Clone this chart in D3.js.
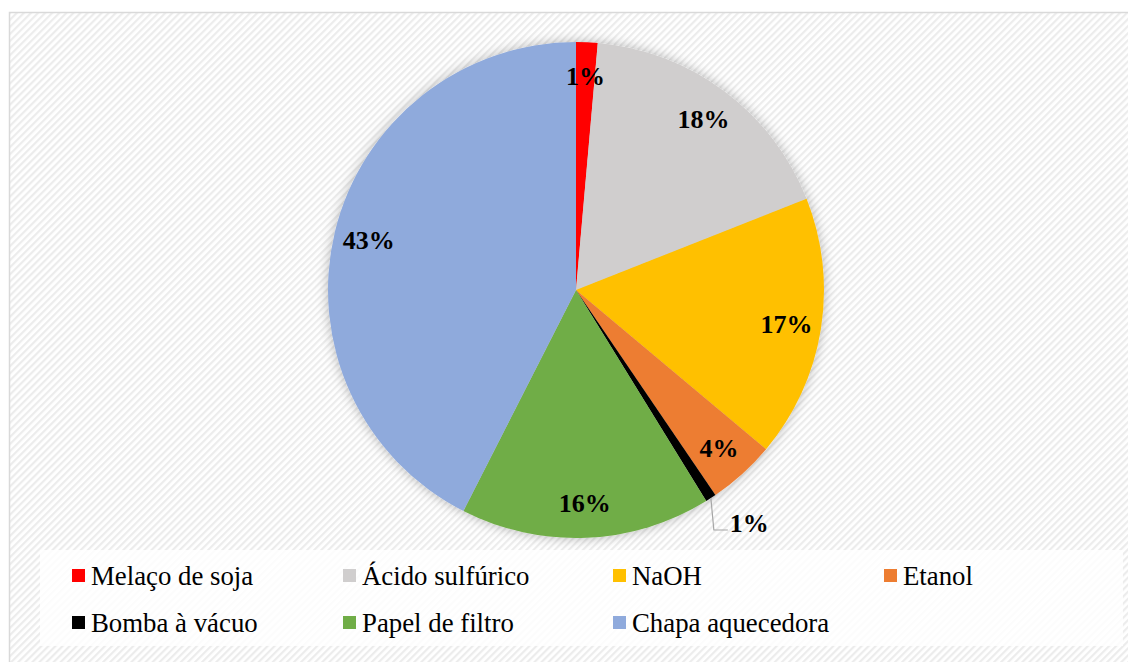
<!DOCTYPE html>
<html>
<head>
<meta charset="utf-8">
<script src="https://cdn.jsdelivr.net/npm/d3@7"></script>
<style>
  html, body { margin: 0; padding: 0; background: #ffffff; }
  svg { display: block; }
  text { font-family: "Liberation Serif"; }
</style>
</head>
<body>
<div id="chart"></div>
<script>
// Cost share of the materials
const categories = ["Melaço de soja", "Ácido sulfúrico", "NaOH", "Etanol", "Bomba à vácuo", "Papel de filtro", "Chapa aquecedora"];
const values = [1.4, 17.6, 17.1, 4.4, 0.7, 16.3, 42.5];
const labels = ["1%", "18%", "17%", "4%", "1%", "16%", "43%"];
const colors = ["#ff0000", "#d0cece", "#ffc000", "#ed7d31", "#000000", "#70ad47", "#8faadc"];

const W = 1128, H = 662;
const cx = 576, cy = 290, R = 248;

const svg = d3.select("#chart").append("svg")
  .attr("width", W).attr("height", H);

const defs = svg.append("defs");

// diagonal hatch used as the chart-area fill
const pat = defs.append("pattern")
  .attr("id", "hatch")
  .attr("patternUnits", "userSpaceOnUse")
  .attr("width", 5).attr("height", 5)
  .attr("patternTransform", "rotate(45)");
pat.append("rect").attr("width", 5).attr("height", 5).attr("fill", "#ffffff");
pat.append("rect").attr("x", 0).attr("width", 2.2).attr("height", 5).attr("fill", "#ececec");

// soft shadow around the pie
const f = defs.append("filter").attr("id", "glow")
  .attr("x", "-10%").attr("y", "-10%").attr("width", "120%").attr("height", "120%");
f.append("feGaussianBlur").attr("in", "SourceAlpha").attr("stdDeviation", 6).attr("result", "b");
f.append("feFlood").attr("flood-color", "#000").attr("flood-opacity", 0.28).attr("result", "c");
f.append("feComposite").attr("in", "c").attr("in2", "b").attr("operator", "in").attr("result", "s");
const fm = f.append("feMerge");
fm.append("feMergeNode").attr("in", "s");
fm.append("feMergeNode").attr("in", "SourceGraphic");

// chart area
svg.append("rect")
  .attr("x", 9.5).attr("y", 12.5)
  .attr("width", W + 20).attr("height", H + 20)
  .attr("fill", "url(#hatch)")
  .attr("stroke", "#d9d9d9").attr("stroke-width", 1.5);

// pie
const pie = d3.pie().sort(null).value(d => d)(values);
const arc = d3.arc().innerRadius(0).outerRadius(R);

const g = svg.append("g").attr("transform", `translate(${cx},${cy})`);
const pieG = g.append("g").attr("filter", "url(#glow)");
pieG.selectAll("path").data(pie).join("path")
  .attr("d", arc)
  .attr("fill", (d, i) => colors[i]);

// data labels
const labelArc = d3.arc().innerRadius(R * 0.86).outerRadius(R * 0.86);

pie.forEach((d, i) => {
  if (i === 4) return;
  const [x, y] = labelArc.centroid(d);
  g.append("text")
    .attr("x", x).attr("y", y)
    .attr("text-anchor", "middle")
    .attr("dominant-baseline", "central")
    .attr("font-weight", "bold")
    .attr("font-size", 26).attr("fill", "#000")
    .text(labels[i]);
});

// small slice: label outside with leader line
{
  const d = pie[4];
  const a = (d.startAngle + d.endAngle) / 2;
  const ex = Math.sin(a) * R, ey = -Math.cos(a) * R;
  const lx = ex + 3, ly = 240;
  g.append("path")
    .attr("d", `M${ex},${ey} L${lx},${ly} L${lx + 14},${ly}`)
    .attr("fill", "none").attr("stroke", "#a6a6a6").attr("stroke-width", 1.2);
  g.append("text")
    .attr("x", lx + 16).attr("y", ly - 7)
    .attr("dominant-baseline", "central")
    .attr("font-weight", "bold")
    .attr("font-size", 26).attr("fill", "#000")
    .text(labels[4]);
}

// legend
svg.append("rect")
  .attr("x", 40).attr("y", 550).attr("width", 1083).attr("height", 96)
  .attr("fill", "#ffffff").attr("fill-opacity", 0.82);

const colX = [72, 343, 613, 884];
const rowY = [575.5, 622.5];
const leg = svg.append("g");
categories.forEach((c, i) => {
  const x = colX[i % 4], y = rowY[Math.floor(i / 4)];
  leg.append("rect")
    .attr("x", x).attr("y", y - 6.5).attr("width", 13).attr("height", 13)
    .attr("fill", colors[i]);
  leg.append("text")
    .attr("x", x + 19).attr("y", y)
    .attr("dominant-baseline", "central")
    .attr("font-size", 26.8).attr("fill", "#000")
    .text(c);
});
</script>
</body>
</html>
